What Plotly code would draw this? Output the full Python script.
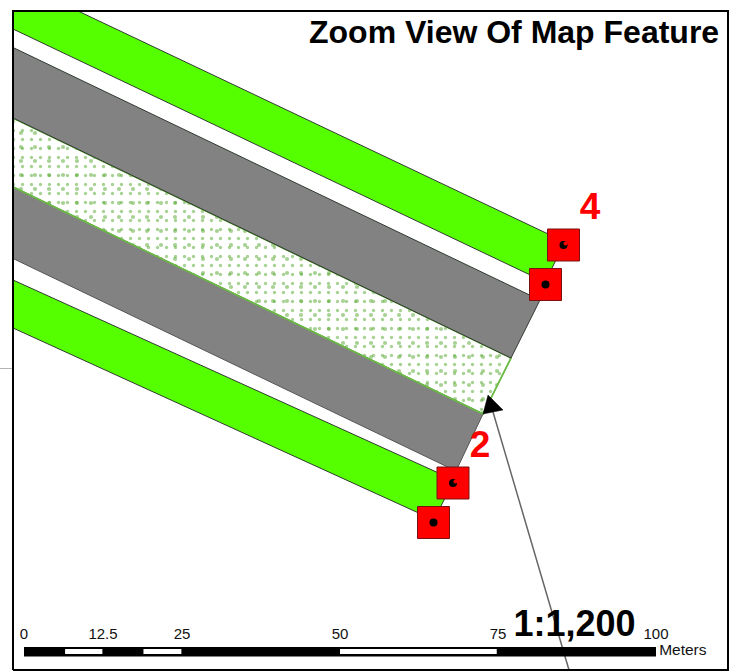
import plotly.graph_objects as go

# Map features (page coordinates)
top_green_x = [13, 78, 565, 545, 13]
top_green_y = [11, 11, 242, 282, 29]
top_gray_x = [13, 540, 511, 13]
top_gray_y = [47.5, 300, 358, 118]
median_x = [13, 511, 483, 13]
median_y = [118, 358, 414, 187]
bottom_gray_x = [13, 483, 456, 13]
bottom_gray_y = [187, 414, 471, 258.5]
bottom_green_x = [13, 454, 434, 13]
bottom_green_y = [280, 480, 520, 328]

square_x = [563.5, 545.5, 453, 433.5]
square_y = [245, 284.5, 483, 522.5]
notch_x = [565.5, 455.5]
notch_y = [243.5, 481.5]

arrow_x = [493, 569]
arrow_y = [412, 670]
head_x = [488, 503, 483]
head_y = [395, 410, 414]

frame_x = [13, 13, 728, 728, 13]
frame_y = [670, 11, 11, 670, 670]
tick_x = [0, 12]
tick_y = [368.5, 368.5]

label_text = ["4", "2"]
label_x = [590, 480]
label_y = [210, 448]

# Scale bar, in metres
scale_ticks = [0, 12.5, 25, 50, 75, 100]
scale_labels = ["0", "12.5", "25", "50", "75", "100"]
scale_white_start = [6.5, 18.9, 50]
scale_white_len = [5.9, 6.0, 24.8]

GREEN = "#55ff00"
GRAY = "#828282"
EDGE = "#2f3a2f"
STIPPLE = "#4fa528"

fig = go.Figure()


def poly(x, y, fill, line, lw=1.0):
    fig.add_trace(go.Scatter(x=x + x[:1], y=y + y[:1], mode="lines", fill="toself",
                             fillcolor=fill, line=dict(color=line, width=lw),
                             hoverinfo="skip"))


# stipple median, laid down as overlapping dot patterns
for size, solid in [(9, 0.11), (14, 0.07)]:
    fig.add_trace(go.Scatter(x=median_x + median_x[:1], y=median_y + median_y[:1],
                             mode="lines", fill="toself", fillcolor="rgba(0,0,0,0)",
                             fillpattern=dict(shape=".", size=size, solidity=solid,
                                              fgcolor=STIPPLE, bgcolor="rgba(255,255,255,0)"),
                             line=dict(color="#6dbb47", width=1.5), hoverinfo="skip"))

poly(top_gray_x, top_gray_y, GRAY, EDGE)
poly(bottom_gray_x, bottom_gray_y, GRAY, "#555555")
fig.add_trace(go.Scatter(x=bottom_gray_x[:2], y=bottom_gray_y[:2], mode="lines",
                         line=dict(color="#6dbb47", width=1.6), hoverinfo="skip"))
poly(top_green_x, top_green_y, GREEN, EDGE)
poly(bottom_green_x, bottom_green_y, GREEN, EDGE)

# leader arrow
fig.add_trace(go.Scatter(x=arrow_x, y=arrow_y, mode="lines",
                         line=dict(color="#666666", width=1.5), hoverinfo="skip"))
poly(head_x, head_y, "#000000", "#000000", 0.5)

# point markers
fig.add_trace(go.Scatter(x=square_x, y=square_y, mode="markers", hoverinfo="skip",
                         marker=dict(symbol="square", size=32, color="#ff0000",
                                     line=dict(color="#7a1010", width=1))))
fig.add_trace(go.Scatter(x=square_x, y=square_y, mode="markers", hoverinfo="skip",
                         marker=dict(symbol="circle", size=8, color="#000000")))
fig.add_trace(go.Scatter(x=notch_x, y=notch_y, mode="markers", hoverinfo="skip",
                         marker=dict(symbol="circle", size=4, color="#ff0000")))

# frame
fig.add_trace(go.Scatter(x=tick_x, y=tick_y, mode="lines", hoverinfo="skip",
                         line=dict(color="#b5b5b5", width=1)))
fig.add_trace(go.Scatter(x=frame_x, y=frame_y, mode="lines", hoverinfo="skip",
                         line=dict(color="#000000", width=2)))

# scale bar on its own metre axis
fig.add_trace(go.Bar(y=[651.8], x=[scale_ticks[-1]], base=[0], orientation="h", width=9.4,
                     marker=dict(color="#000000", line=dict(width=0)), xaxis="x2",
                     hoverinfo="skip"))
fig.add_trace(go.Bar(y=[651.6] * 3, x=scale_white_len, base=scale_white_start, orientation="h",
                     width=5, marker=dict(color="#ffffff", line=dict(width=0)), xaxis="x2",
                     hoverinfo="skip"))
fig.add_trace(go.Scatter(x=scale_ticks, y=[635] * 6, text=scale_labels, mode="text", xaxis="x2",
                         textposition="middle center", hoverinfo="skip",
                         textfont=dict(family="Liberation Sans", size=15, color="#111111")))
fig.add_trace(go.Scatter(x=[100.5], y=[651.5], text=["Meters"], mode="text", xaxis="x2",
                         textposition="middle right", hoverinfo="skip",
                         textfont=dict(family="Liberation Sans", size=15.5, color="#111111")))

# text
fig.add_trace(go.Scatter(x=label_x, y=label_y, text=label_text, mode="text", hoverinfo="skip",
                         textposition="middle center",
                         textfont=dict(family="Liberation Sans", size=37, color="#ff0000",
                                       weight="bold")))
fig.add_trace(go.Scatter(x=[309], y=[35], text=["Zoom View Of Map Feature"], mode="text",
                         textposition="middle right", hoverinfo="skip",
                         textfont=dict(family="Liberation Sans", size=32, color="#000000",
                                       weight="bold")))
fig.add_trace(go.Scatter(x=[574.5], y=[626.5], text=["1:1,200"], mode="text",
                         textposition="middle center", hoverinfo="skip",
                         textfont=dict(family="Liberation Sans", size=36, color="#000000",
                                       weight="bold")))

fig.update_layout(
    width=730, height=672, margin=dict(l=0, r=0, t=0, b=0), showlegend=False,
    paper_bgcolor="#ffffff", plot_bgcolor="#ffffff", barmode="overlay",
    xaxis=dict(range=[0, 730], visible=False, fixedrange=True),
    yaxis=dict(range=[672, 0], visible=False, fixedrange=True),
    xaxis2=dict(range=[-24 / 6.32, 706 / 6.32], visible=False, overlaying="x", fixedrange=True),
)
fig.write_html("out.html", config=dict(displayModeBar=False),
               post_script="document.body.style.margin='0';document.documentElement.style.overflow='hidden';")
